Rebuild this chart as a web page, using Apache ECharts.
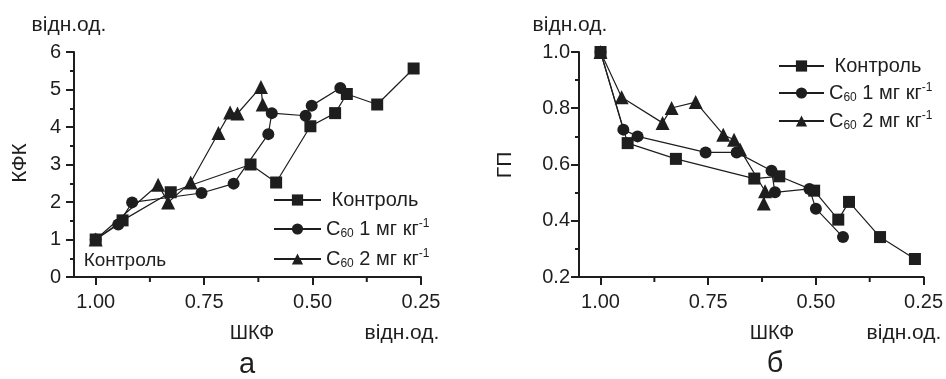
<!DOCTYPE html>
<html>
<head>
<meta charset="utf-8">
<script src="https://cdn.jsdelivr.net/npm/echarts@6/dist/echarts.min.js"></script>
<style>html,body{margin:0;padding:0;background:#fff}#c{width:946px;height:379px}</style>
</head>
<body>
<div id="c"></div>
<script>
// ---- data (panel a: КФК vs ШКФ) ----
const xCtrlA = [1.00, 0.938, 0.827, 0.643, 0.584, 0.505, 0.448, 0.421, 0.351, 0.267];
const yCtrlA = [1.00, 1.51, 2.26, 3.00, 2.52, 4.02, 4.37, 4.88, 4.60, 5.56];
const x1A = [1.00, 0.948, 0.916, 0.756, 0.682, 0.602, 0.594, 0.516, 0.502, 0.436];
const y1A = [1.00, 1.40, 1.99, 2.24, 2.49, 3.81, 4.37, 4.30, 4.57, 5.04];
const x2A = [1.00, 0.856, 0.833, 0.781, 0.717, 0.690, 0.673, 0.619, 0.615];
const y2A = [1.00, 2.46, 1.99, 2.52, 3.84, 4.39, 4.36, 5.07, 4.60];
// ---- data (panel б: ГП vs ШКФ) ----
const xCtrlB = [1.00, 0.937, 0.825, 0.643, 0.585, 0.504, 0.448, 0.423, 0.351, 0.270];
const yCtrlB = [1.00, 0.676, 0.620, 0.550, 0.558, 0.507, 0.404, 0.467, 0.342, 0.264];
const x1B = [1.00, 0.947, 0.914, 0.756, 0.684, 0.603, 0.595, 0.515, 0.500, 0.437];
const y1B = [1.00, 0.724, 0.700, 0.643, 0.643, 0.578, 0.501, 0.513, 0.443, 0.342];
const x2B = [1.00, 0.951, 0.856, 0.835, 0.779, 0.715, 0.690, 0.676, 0.618, 0.621];
const y2B = [1.00, 0.839, 0.748, 0.801, 0.822, 0.706, 0.688, 0.653, 0.505, 0.461];
// ---- ticks ----
const xMajorTicks = [0.25, 0.50, 0.75, 1.00];
const xMinorTicks = [0.375, 0.625, 0.875];
const seriesNames = ['Контроль', 'C60_1', 'C60_2'];

const INK = '#1e1e1e';
const FONT = 'Liberation Sans, Arial, sans-serif';
const zip = (xs, ys) => xs.map((x, i) => [x, ys[i]]);

function xAxis(gridIndex) {
  return { type: 'value', gridIndex, min: 0.25, max: 1.05, inverse: true,
    splitLine: { show: false },
    axisLine: { show: true, onZero: false, lineStyle: { color: INK, width: 2 } },
    axisTick: { show: true, customValues: xMajorTicks, length: 8, lineStyle: { color: INK, width: 2 } },
    axisLabel: { show: true, customValues: xMajorTicks, margin: 15, color: INK, fontSize: 20, fontFamily: FONT,
      formatter: v => v.toFixed(2) }
  };
}
function yAxis(gridIndex, min, max, interval, digits, margin) {
  return { type: 'value', gridIndex, min, max, interval,
    splitLine: { show: false },
    axisLine: { show: true, onZero: false, lineStyle: { color: INK, width: 2 } },
    axisTick: { show: true, length: 8, lineStyle: { color: INK, width: 2 } },
    minorTick: { show: true, splitNumber: 2, length: 4, lineStyle: { color: INK, width: 2 } },
    axisLabel: { margin, color: INK, fontSize: 20, fontFamily: FONT, formatter: v => v.toFixed(digits) }
  };
}
// minor x ticks drawn through the axis scale (custom series)
function minorTickSeries(axisIndex, yMin) {
  return { type: 'custom', xAxisIndex: axisIndex, yAxisIndex: axisIndex, clip: false, silent: true,
    animation: false, z: 5,
    data: xMinorTicks.map(v => [v, yMin]),
    renderItem: (params, api) => {
      const p = api.coord([api.value(0), api.value(1)]);
      return { type: 'line', shape: { x1: p[0], y1: p[1], x2: p[0], y2: p[1] + 5 },
        style: { stroke: INK, lineWidth: 2 } };
    }
  };
}
const symbols = ['rect', 'circle', 'triangle'];
const sizes = [12, 12, 14];
function mkSeries(name, idx, xi, yi, data) {
  return { name, type: 'line', xAxisIndex: xi, yAxisIndex: yi, data,
    symbol: symbols[idx], symbolSize: sizes[idx], showAllSymbol: true,
    lineStyle: { color: INK, width: 1.2 }, itemStyle: { color: INK },
    emphasis: { disabled: true }, animation: false, z: 3 - idx };
}
const rich = {
  n: { fontSize: 20, fontFamily: FONT, color: INK, lineHeight: 22 },
  s: { fontSize: 12, fontFamily: FONT, color: INK, lineHeight: 12, verticalAlign: 'bottom' },
  p: { fontSize: 12, fontFamily: FONT, color: INK, lineHeight: 12, verticalAlign: 'top' }
};
function legendFmt(name) {
  if (name === 'Контроль') return '{n| Контроль}';
  if (name === 'C60_1') return '{n|C}{s|60}{n| 1 мг кг}{p|-1}';
  return '{n|C}{s|60}{n| 2 мг кг}{p|-1}';
}
function legend(left, top, w, gap) {
  return { orient: 'vertical', left, top, padding: 0, itemWidth: w, itemHeight: 14, itemGap: gap,
    data: seriesNames, selectedMode: false, formatter: legendFmt,
    textStyle: { rich, color: INK, fontSize: 20, fontFamily: FONT } };
}
function txt(x, y, text, size, extra) {
  return Object.assign({ type: 'text', x, y,
    style: { text, fill: INK, font: size + 'px ' + FONT, align: 'center', verticalAlign: 'middle' } }, extra || {});
}

const chart = echarts.init(document.getElementById('c'), null, { renderer: 'canvas' });
chart.setOption({
  backgroundColor: '#fff',
  animation: false,
  grid: [
    { left: 74, top: 52, width: 347, height: 225 },
    { left: 579, top: 52, width: 345, height: 225 }
  ],
  xAxis: [xAxis(0), xAxis(1)],
  yAxis: [yAxis(0, 0, 6, 1, 0, 13), yAxis(1, 0.2, 1.0, 0.2, 1, 9)],
  legend: [legend(273, 190, 47, 8), legend(778, 56, 45, 6)],
  series: [
    mkSeries(seriesNames[0], 0, 0, 0, zip(xCtrlA, yCtrlA)),
    mkSeries(seriesNames[1], 1, 0, 0, zip(x1A, y1A)),
    mkSeries(seriesNames[2], 2, 0, 0, zip(x2A, y2A)),
    mkSeries(seriesNames[0], 0, 1, 1, zip(xCtrlB, yCtrlB)),
    mkSeries(seriesNames[1], 1, 1, 1, zip(x1B, y1B)),
    mkSeries(seriesNames[2], 2, 1, 1, zip(x2B, y2B)),
    minorTickSeries(0, 0),
    minorTickSeries(1, 0.2)
  ],
  graphic: [
    txt(69, 25, 'відн.од.', 21),
    txt(570, 25, 'відн.од.', 21),
    txt(20, 163, 'КФК', 21, { rotation: Math.PI / 2 }),
    txt(505, 165, 'ГП', 21, { rotation: Math.PI / 2 }),
    txt(252, 333, 'ШКФ', 20),
    txt(772, 333, 'ШКФ', 20),
    txt(402, 333, 'відн.од.', 21),
    txt(904, 333, 'відн.од.', 21),
    txt(247, 365, 'а', 29),
    txt(775, 364, 'б', 29),
    txt(125, 261, 'Контроль', 19)
  ]
});
</script>
</body>
</html>
